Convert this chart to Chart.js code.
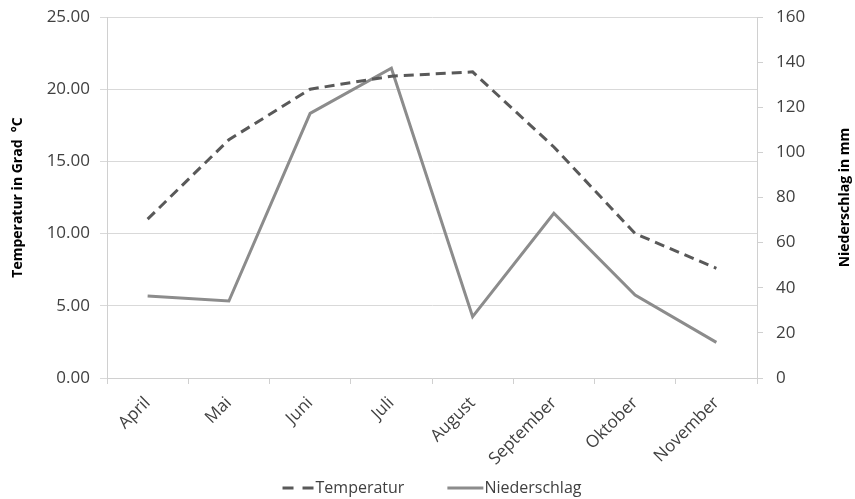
<!DOCTYPE html>
<html>
<head>
<meta charset="utf-8">
<script src="https://cdn.jsdelivr.net/npm/chart.js@4/dist/chart.umd.min.js"></script>
<style>
  html, body { margin: 0; padding: 0; background: #fff; }
  #wrap { width: 855px; height: 499px; }
</style>
</head>
<body>
<div id="wrap"><canvas id="c" width="855" height="499"></canvas></div>
<script>
// Monthly climate values
const months = ['April', 'Mai', 'Juni', 'Juli', 'August', 'September', 'Oktober', 'November'];
const temperatur = [11.0, 16.5, 20.0, 20.9, 21.2, 16.0, 10.0, 7.6];
const niederschlag = [36.3, 34.1, 117.3, 137.3, 27.2, 73.0, 36.8, 15.8];
const tempTicks = [0, 5, 10, 15, 20, 25];
const rainTicks = [0, 20, 40, 60, 80, 100, 120, 140, 160];
const titleLeft = 'Temperatur in Grad  °C';
const titleRight = 'Niederschlag in mm';

const FONT = "'Open Sans', 'Liberation Sans', sans-serif";
const TICK_COLOR = '#404040';

// Axis titles (both read bottom-to-top) and a legend with dashed/solid line keys
const decorations = {
  id: 'decorations',
  afterDraw(chart) {
    const ctx = chart.ctx;
    const area = chart.chartArea;
    const midY = (area.top + area.bottom) / 2;
    ctx.save();
    ctx.fillStyle = '#000';
    ctx.font = 'bold 14px ' + FONT;
    ctx.textAlign = 'center';
    ctx.textBaseline = 'middle';
    const yT = chart.scales.yT, yN = chart.scales.yN;
    [[yT.left + 18, titleLeft], [yN.right - 10, titleRight]].forEach(([x, t]) => {
      ctx.save();
      ctx.translate(x, midY);
      ctx.rotate(-Math.PI / 2);
      ctx.fillText(t, 0, 0);
      ctx.restore();
    });

    // legend
    ctx.font = '16px ' + FONT;
    ctx.textBaseline = 'middle';
    ctx.textAlign = 'left';
    const gap = 44;
    const items = chart.data.datasets.map(ds => ({
      ds,
      keyW: ds.borderDash ? 32 : 36,
      w: ctx.measureText(ds.label).width
    }));
    const total = items.reduce((a, it) => a + it.keyW + it.w, 0) + gap * (items.length - 1);
    let x = (chart.width - total) / 2 + 4;
    const y = chart.height - 11;
    items.forEach(({ ds, keyW, w }) => {
      ctx.save();
      ctx.strokeStyle = ds.borderColor;
      ctx.lineWidth = ds.borderWidth;
      ctx.setLineDash(ds.borderDash ? [11, 9] : []);
      ctx.beginPath();
      ctx.moveTo(x, y);
      ctx.lineTo(x + keyW, y);
      ctx.stroke();
      ctx.restore();
      ctx.fillStyle = TICK_COLOR;
      ctx.fillText(ds.label, x + keyW + 1, y);
      x += keyW + w + gap;
    });
    ctx.restore();
  }
};

// vertical axes: fixed width, no extra top/bottom padding for edge labels
const fitY = (width) => (s) => {
  s.width = width;
  s.paddingTop = 0;
  s.paddingBottom = 0;
};

new Chart(document.getElementById('c'), {
  type: 'line',
  data: {
    labels: months,
    datasets: [
      {
        label: 'Temperatur',
        data: temperatur,
        yAxisID: 'yT',
        borderColor: '#595959',
        backgroundColor: '#595959',
        borderWidth: 3,
        borderDash: [10, 6],
        pointRadius: 0,
        tension: 0,
        fill: false
      },
      {
        label: 'Niederschlag',
        data: niederschlag,
        yAxisID: 'yN',
        borderColor: '#8c8c8c',
        backgroundColor: '#8c8c8c',
        borderWidth: 3,
        pointRadius: 0,
        tension: 0,
        fill: false
      }
    ]
  },
  plugins: [decorations],
  options: {
    responsive: false,
    animation: false,
    layout: { padding: { top: 17, left: 0, right: 0, bottom: 0 } },
    plugins: {
      tooltip: { enabled: false },
      legend: { display: false }
    },
    scales: {
      x: {
        offset: true,
        grid: {
          offset: true,
          drawOnChartArea: false,
          drawTicks: true,
          tickLength: 6,
          color: '#d0d0d0'
        },
        border: { color: '#d0d0d0' },
        ticks: {
          maxRotation: 45,
          minRotation: 45,
          color: TICK_COLOR,
          padding: 9,
          font: { family: FONT, size: 17 }
        },
        afterFit: (s) => { s.height = 121; }
      },
      yT: {
        position: 'left',
        min: 0,
        max: 25,
        afterBuildTicks: (s) => { s.ticks = tempTicks.map(v => ({ value: v })); },
        grid: { color: '#d9d9d9', tickLength: 7 },
        border: { color: '#d0d0d0' },
        ticks: {
          color: TICK_COLOR,
          font: { family: FONT, size: 17 },
          padding: 10,
          callback: (v) => Number(v).toFixed(2)
        },
        afterFit: fitY(107)
      },
      yN: {
        position: 'right',
        min: 0,
        max: 160,
        afterBuildTicks: (s) => { s.ticks = rainTicks.map(v => ({ value: v })); },
        grid: { drawOnChartArea: false, color: '#d0d0d0', tickLength: 6 },
        border: { color: '#d0d0d0' },
        ticks: {
          color: TICK_COLOR,
          font: { family: FONT, size: 17 },
          padding: 13
        },
        afterFit: fitY(98)
      }
    }
  }
});
</script>
</body>
</html>
